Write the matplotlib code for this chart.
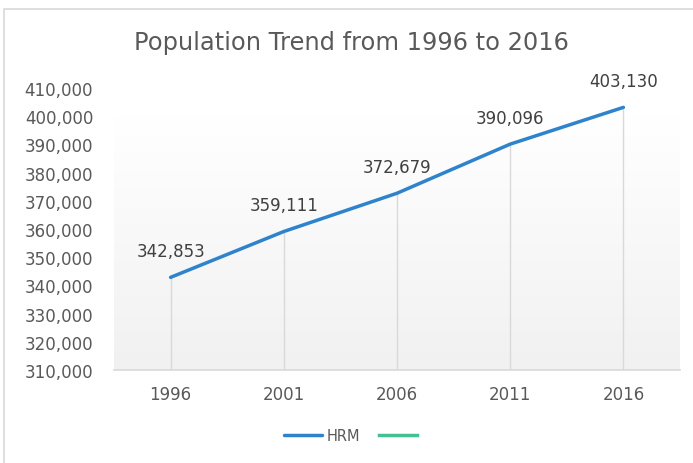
import numpy as np
import matplotlib
matplotlib.use("Agg")
import matplotlib.pyplot as plt
from matplotlib.patches import Rectangle

# dados
anos = ["1996", "2001", "2006", "2011", "2016"]
populacao = [342853, 359111, 372679, 390096, 403130]
serie_nome = "HRM"

COR_LINHA = "#2E83CC"
COR_VERDE = "#45C191"
COR_TEXTO = "#595959"
COR_GRADE = "#D9D9D9"

fig = plt.figure(figsize=(6.93, 4.64), dpi=100)
fig.patch.set_facecolor("white")

# borda externa do grafico
fig.add_artist(Rectangle((4 / 693, -0.01), 1.0, 1 - 10 / 464 + 0.01,
                         transform=fig.transFigure, fill=False,
                         edgecolor=COR_GRADE, lw=1.2))

ax = fig.add_axes([114 / 693, 93 / 464, 566 / 693, 282 / 464])
x = np.arange(len(anos))
ax.set_xlim(-0.5, len(anos) - 0.5)
ax.set_ylim(310000, 410000)

# fundo em degrade (branco em cima -> cinza claro embaixo)
grad = np.linspace(0, 1, 256).reshape(-1, 1)
topo = np.array([1.0, 1.0, 1.0])
base = np.array([0.945, 0.945, 0.945])
frac = np.clip((grad - 0.1) / 0.9, 0, 1)[..., None]
img = topo + (base - topo) * frac
ax.imshow(img, extent=[-0.5, len(anos) - 0.5, 310000, 410000], aspect="auto",
          zorder=0, origin="upper")

# linhas de queda
ax.vlines(x, 310000, populacao, colors=COR_GRADE, lw=1, zorder=1)
ax.plot(x, populacao, color=COR_LINHA, lw=2.5, solid_capstyle="round",
        label=serie_nome, zorder=3)
ax.plot([], [], color=COR_VERDE, lw=2.5, label=" ")

for xi, v in zip(x, populacao):
    ax.annotate(f"{v:,}", (xi, v), xytext=(0, 19), textcoords="offset points",
                ha="center", va="center", fontsize=12, color="#404040")

for s in ["top", "right", "left"]:
    ax.spines[s].set_visible(False)
ax.spines["bottom"].set_color(COR_GRADE)
ax.spines["bottom"].set_linewidth(1.2)

ax.set_xticks(x)
ax.set_xticklabels(anos)
ax.set_yticks(np.arange(310000, 410001, 10000))
ax.yaxis.set_major_formatter(matplotlib.ticker.FuncFormatter(lambda v, p: f"{int(v):,}"))
ax.tick_params(axis="both", length=0, labelsize=12, colors=COR_TEXTO)
ax.tick_params(axis="x", pad=11)
ax.tick_params(axis="y", pad=15)

fig.text(351 / 693, 1 - 43 / 464, "Population Trend from 1996 to 2016",
         ha="center", va="center", fontsize=17.4, color=COR_TEXTO)

leg = fig.legend(loc="center", bbox_to_anchor=(355 / 693, 1 - 437 / 464), ncol=2,
                 frameon=False, fontsize=10.5, handlelength=2.6, handletextpad=0.3,
                 columnspacing=1.3)
for t in leg.get_texts():
    t.set_color(COR_TEXTO)

fig.savefig("out.png", dpi=100)
